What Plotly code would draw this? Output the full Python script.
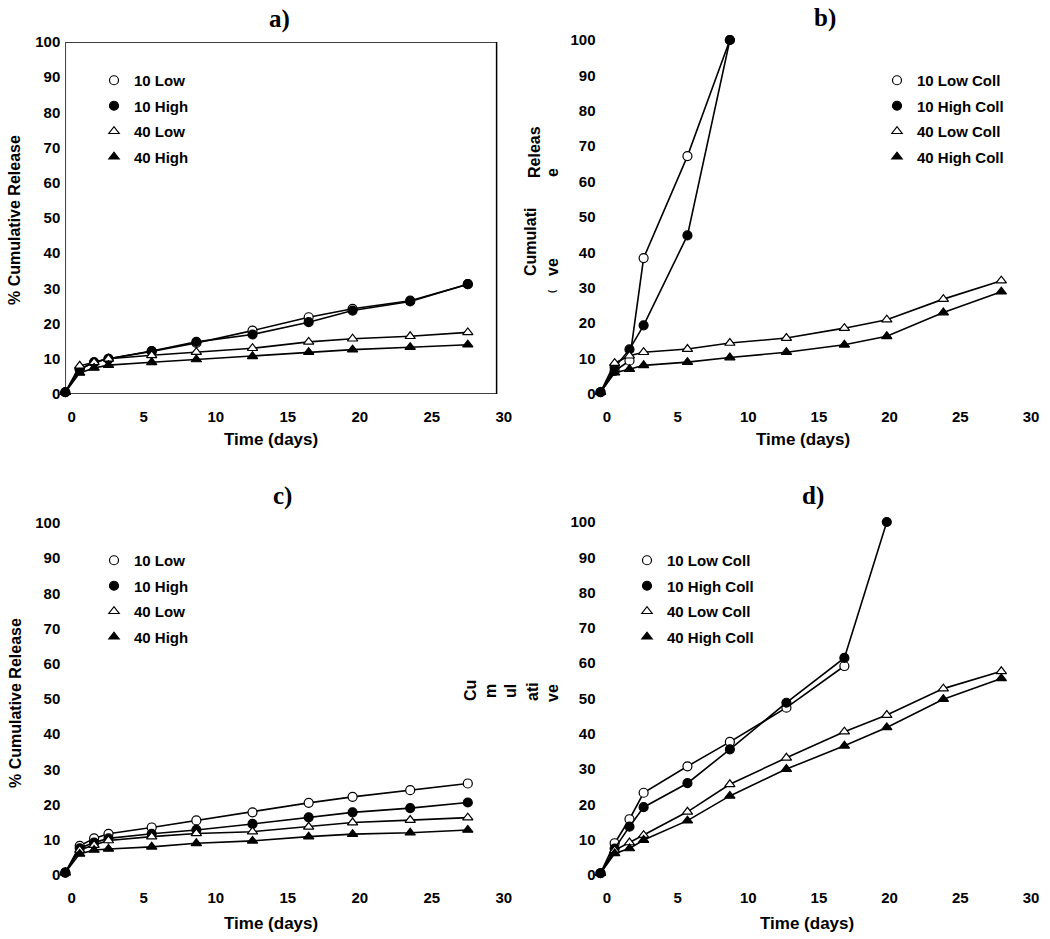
import plotly.graph_objects as go

# ---------------- data ----------------
days_ac = [-0.45, 0.55, 1.55, 2.55, 5.55, 8.65, 12.55, 16.45, 19.5, 23.5, 27.5]
days_bd = [-0.45, 0.55, 1.6, 2.6, 5.7, 8.7, 12.7, 16.8, 19.8, 23.8, 27.9]

a_10_low = [0.5, 7.0, 9.0, 10.0, 12.1, 14.5, 18.0, 21.8, 24.2, 26.5, 31.2]
a_10_high = [0.5, 7.0, 9.0, 10.0, 12.2, 14.8, 16.9, 20.4, 23.7, 26.3, 31.2]
a_40_low = [0.5, 8.0, 9.0, 10.0, 11.0, 11.9, 13.0, 14.8, 15.7, 16.4, 17.5]
a_40_high = [0.5, 6.0, 7.4, 8.2, 9.0, 9.8, 10.7, 11.9, 12.6, 13.3, 14.0]

b_10_low = [0.5, 6.5, 9.4, 38.4, 67.2, 100.0]
b_10_high = [0.5, 7.5, 12.6, 19.4, 44.8, 100.0]
b_40_low = [0.5, 8.7, 10.8, 11.8, 12.7, 14.4, 15.8, 18.6, 21.0, 26.8, 32.0]
b_40_high = [0.5, 6.0, 7.0, 8.1, 9.0, 10.3, 11.8, 13.9, 16.3, 23.0, 28.9]

c_10_low = [0.7, 8.3, 10.4, 11.7, 13.5, 15.5, 17.8, 20.5, 22.2, 24.1, 26.0]
c_10_high = [0.7, 7.6, 9.2, 10.4, 11.7, 12.8, 14.5, 16.4, 17.8, 19.0, 20.6]
c_40_low = [0.7, 7.1, 8.5, 9.8, 10.9, 11.8, 12.3, 13.7, 14.9, 15.6, 16.3]
c_40_high = [0.7, 6.0, 7.1, 7.4, 8.0, 9.0, 9.7, 10.9, 11.6, 12.0, 12.8]

d_10_low = [0.5, 9.0, 15.8, 23.3, 30.8, 37.7, 47.4, 59.2]
d_10_high = [0.5, 7.5, 13.7, 19.2, 26.0, 35.6, 48.8, 61.5, 100.0]
d_40_low = [0.5, 7.0, 9.2, 11.3, 17.9, 25.7, 33.2, 40.6, 45.3, 52.8, 57.7]
d_40_high = [0.5, 6.1, 7.5, 9.9, 15.4, 22.4, 30.0, 36.6, 41.8, 49.8, 55.7]

names_ac = ["10 Low", "10 High", "40 Low", "40 High"]
names_bd = ["10 Low Coll", "10 High Coll", "40 Low Coll", "40 High Coll"]

x_ticks = [0, 5, 10, 15, 20, 25, 30]
y_ticks = [0, 10, 20, 30, 40, 50, 60, 70, 80, 90, 100]

# ---------------- figure ----------------
W, H = 1050, 939
FONT = "Liberation Sans, Arial, sans-serif"
fig = go.Figure()

styles = [
    dict(symbol="circle", color="white", size=9),
    dict(symbol="circle", color="black", size=9),
    dict(symbol="triangle-up", color="white", size=9),
    dict(symbol="triangle-up", color="black", size=9),
]

panels = [
    ("", days_ac, [a_10_low, a_10_high, a_40_low, a_40_high], names_ac, "legend"),
    ("2", days_bd, [b_10_low, b_10_high, b_40_low, b_40_high], names_bd, "legend2"),
    ("3", days_ac, [c_10_low, c_10_high, c_40_low, c_40_high], names_ac, "legend3"),
    ("4", days_bd, [d_10_low, d_10_high, d_40_low, d_40_high], names_bd, "legend4"),
]

for suf, xs, series, names, leg in panels:
    for i, (ys, nm) in enumerate(zip(series, names)):
        st = styles[i]
        fig.add_trace(go.Scatter(
            x=xs[:len(ys)], y=ys, mode="lines+markers", name=nm,
            xaxis="x" + suf, yaxis="y" + suf, showlegend=False,
            cliponaxis=False,
            line=dict(color="black", width=1.6),
            marker=dict(symbol=st["symbol"], size=st["size"], color=st["color"],
                        line=dict(color="black", width=1.2)),
        ))
    for i, nm in enumerate(names):
        st = styles[i]
        fig.add_trace(go.Scatter(
            x=[None], y=[None], mode="markers", name=nm,
            xaxis="x" + suf, yaxis="y" + suf, legend=leg, legendgroup=leg + str(i),
            marker=dict(symbol=st["symbol"], size=st["size"], color=st["color"],
                        line=dict(color="black", width=1.2)),
        ))

def px_x(p):
    return p / W

def px_y(p):
    return 1 - p / H

# axis pixel layouts: (x at -0.45 px, x at 30 px, y at 0 px, y at 100 px)
geo = {
    "": (65.3, 503.8, 394, 42),
    "2": (600.5, 1031, 394, 40),
    "3": (65.3, 503.8, 875, 523),
    "4": (600.5, 1031, 875, 522),
}

tickfont = dict(family=FONT, size=15, color="black", weight="bold")
for suf, (x0, x1, y0, y1) in geo.items():
    fig.layout["xaxis" + suf] = dict(
        domain=[px_x(x0), px_x(x1)], range=[-0.45, 30], anchor="y" + suf,
        tickvals=x_ticks, ticks="", showgrid=False, zeroline=False, showline=False,
        tickfont=tickfont, ticklabelstandoff=12, automargin=False,
    )
    fig.layout["yaxis" + suf] = dict(
        domain=[px_y(y0), px_y(y1)], range=[0, 100], anchor="x" + suf,
        tickvals=y_ticks, ticks="", showgrid=False, zeroline=False, showline=False,
        tickfont=tickfont, ticklabelstandoff=4, automargin=False,
    )

# box around panel a
fig.add_shape(type="rect", xref="x", yref="y", x0=-0.45, x1=29.5, y0=0, y1=100,
              line=dict(color="black", width=1.5), layer="above")

legfont = dict(family=FONT, size=15, color="black", weight="bold")
leg_pos = {
    "legend": (94, 64),
    "legend2": (877, 64),
    "legend3": (94, 544),
    "legend4": (627, 544),
}
for k, (lx, ly) in leg_pos.items():
    fig.layout[k] = dict(x=px_x(lx), y=px_y(ly), xanchor="left", yanchor="top",
                         font=legfont, bgcolor="rgba(0,0,0,0)", tracegroupgap=3,
                         itemwidth=30)

ann = []
def add_text(txt, x, y, size=16, angle=0, family=FONT, weight="bold"):
    ann.append(dict(text=txt, x=px_x(x), y=px_y(y), xref="paper", yref="paper",
                    showarrow=False, textangle=angle, xanchor="center", yanchor="middle",
                    font=dict(family=family, size=size, color="black", weight=weight)))

SERIF = "Liberation Serif, Times New Roman, serif"
add_text("a)", 279, 19, size=25, family=SERIF)
add_text("b)", 825, 18, size=25, family=SERIF)
add_text("c)", 282, 496, size=25, family=SERIF)
add_text("d)", 813, 496, size=25, family=SERIF)

add_text("Time (days)", 271, 440, size=17)
add_text("Time (days)", 803, 440, size=17)
add_text("Time (days)", 271, 923, size=17)
add_text("Time (days)", 807, 923, size=17)

add_text("% Cumulative Release", 15, 220, size=16, angle=-90)
add_text("% Cumulative Release", 15, 703, size=16, angle=-90)

# fragmented label pieces of panel b
add_text("Releas", 535, 152, size=16, angle=-90)
add_text("e", 552, 173, size=16, angle=-90)
add_text("Cumulati", 531, 242, size=16, angle=-90)
add_text("ve", 552, 267, size=16, angle=-90)
add_text("(", 552, 292, size=9, angle=-90)

# fragmented label pieces between panels c and d
add_text("Cu", 470, 691, size=16, angle=-90)
add_text("m", 490, 691, size=16, angle=-90)
add_text("ul", 510, 691, size=16, angle=-90)
add_text("ati", 532, 692, size=16, angle=-90)
add_text("ve", 552, 693, size=16, angle=-90)

fig.update_layout(
    width=W, height=H, margin=dict(l=0, r=0, t=0, b=0, autoexpand=False),
    paper_bgcolor="white", plot_bgcolor="white",
    annotations=ann, font=dict(family=FONT, color="black"),
)

fig.write_html("out.html", config={"displayModeBar": False},
               post_script="document.body.style.margin='0px';")
